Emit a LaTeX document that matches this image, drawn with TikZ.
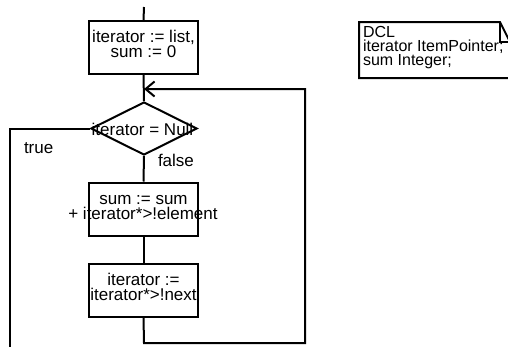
\documentclass[tikz,border=0pt]{standalone}
\usepackage{fontspec}
\setmainfont{Liberation Sans}
\usetikzlibrary{shapes.geometric,arrows.meta}
\begin{document}
\begin{tikzpicture}[x=1pt,y=-1pt,line width=2pt,
  box/.style={draw,rectangle,minimum width=109pt,minimum height=53pt,inner sep=0pt},
  dec/.style={draw,diamond,minimum width=106pt,minimum height=53pt,inner sep=0pt},
  txt/.style={inner sep=0pt,anchor=base,font=\fontsize{17}{14.5}\selectfont},
  lbl/.style={inner sep=0pt,anchor=base west,font=\fontsize{17}{14.5}\selectfont},
  notetxt/.style={inner sep=0pt,anchor=base west,font=\fontsize{16}{14}\selectfont},
  flow/.style={line width=2pt},
  back/.style={line width=2pt,-{Straight Barb[length=9pt,width=15pt]}}]
\useasboundingbox (0,0) rectangle (508,346);
% boxes
\node[box] (init) at (143.5,47.5) {};
\node[txt] (init1) at (143.5,42.7) {iterator := list,};
\node[txt] (init2) at (143.5,57) {sum := 0};
\node[dec] (test) at (144,128.5) {};
\node[txt] (testtxt) at (142.5,135.5) {iterator = Null};
\node[box] (sum) at (143.5,209) {};
\node[txt] (sum1) at (143.5,204) {sum := sum};
\node[txt] (sum2) at (143,219.3) {+ iterator*>!element};
\node[box] (next) at (143.5,290) {};
\node[txt] (next1) at (143.5,285) {iterator :=};
\node[txt] (next2) at (143.5,300) {iterator*>!next};
% labels
\node[lbl] (true) at (23,153) {true};
\node[lbl] (false) at (157,166.7) {false};
% coordinates
\coordinate (start) at (144,7);
\coordinate (join) at (144,89);
\coordinate (c1) at (144,343);
\coordinate (c2) at (305,343);
\coordinate (c3) at (305,89);
\coordinate (l1) at (10,128.5);
\coordinate (l2) at (10,352);
% connectors
\draw[flow] (start) -- (init.north);
\draw[flow] (init.south) -- (test.north);
\draw[flow] (test.south) -- (sum.north);
\draw[flow] (sum.south) -- (next.north);
\draw[back] (next.south) -- (c1) -- (c2) -- (c3) -- (join);
\draw[flow] (test.west) -- (l1) -- (l2);
% note
\draw[line width=2pt] (359,22) -- (500,22) -- (510,42) -- (510,78) -- (359,78) -- cycle;
\draw[line width=2pt] (500,22) -- (500,42) -- (510,42);
\node[notetxt] (n1) at (362,37) {DCL};
\node[notetxt] (n2) at (362,51) {iterator ItemPointer;};
\node[notetxt] (n3) at (362,65) {sum Integer;};
\end{tikzpicture}
\end{document}
